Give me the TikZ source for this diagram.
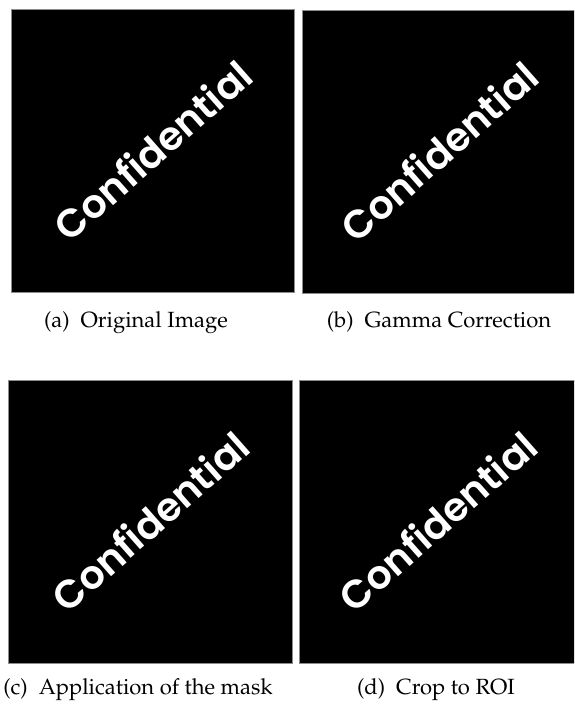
\documentclass[tikz,border=0pt]{standalone}
\usepackage{fontspec}
\newfontfamily\conffont{Poppins SemiBold}
\newcommand{\palfont}{\fontencoding{T1}\fontfamily{ppl}\selectfont}
\tikzset{
  imgbox/.style={fill=black, draw=black!45, line width=0.8pt},
  conftext/.style={text=white, font=\conffont\fontsize{39.5}{39.5}\selectfont, rotate=41.5, inner sep=0pt},
  captext/.style={font=\palfont\fontsize{22}{26}\selectfont, anchor=base, inner sep=0pt}
}
\begin{document}
\begin{tikzpicture}[x=1pt,y=-1pt]
\useasboundingbox (0,0) rectangle (574,706);
\begin{scope}
\clip (0,0) rectangle (574,706);
% boxes
\node[imgbox, minimum width=283pt, minimum height=283pt, inner sep=0pt] (ba) at (152.5,150.5) {};
\node[imgbox, minimum width=274pt, minimum height=283pt, inner sep=0pt] (bb) at (439,151.5) {};
\node[imgbox, minimum width=284pt, minimum height=283pt, inner sep=0pt] (bc) at (150,521.5) {};
\node[imgbox, minimum width=277pt, minimum height=283pt, inner sep=0pt] (bd) at (437.5,521.5) {};
\end{scope}
% watermark texts
\node[conftext] (ta) at (ba.center) {Confidential};
\node[conftext] (tb) at (bb.center) {Confidential};
\node[conftext] (tc) at (bc.center) {Confidential};
\node[conftext] (td) at (bd.center) {Confidential};
% captions
\node[captext] (ca) at (136,327) {(a)\enspace Original Image};
\node[captext] (cb) at (439,327) {(b)\enspace Gamma Correction};
\node[captext] (cc) at (138,694) {(c)\enspace Application of the mask};
\node[captext] (cd) at (436,694) {(d)\enspace Crop to ROI};
\end{tikzpicture}
\end{document}
